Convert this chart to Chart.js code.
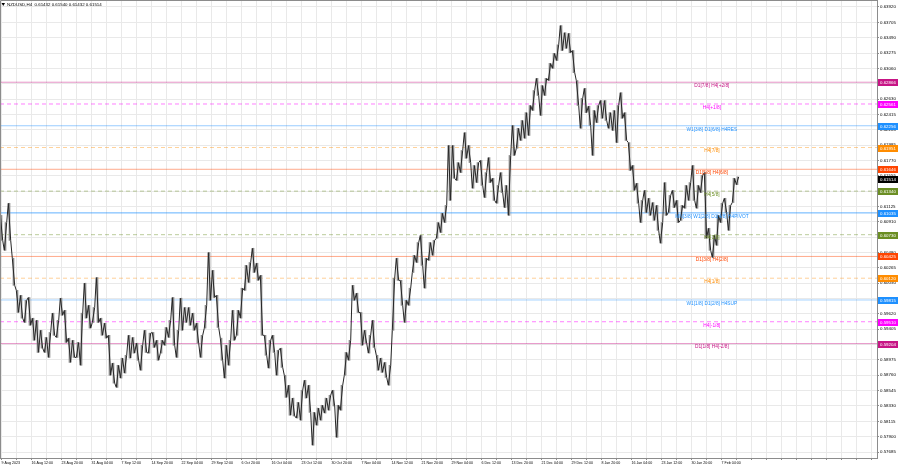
<!DOCTYPE html>
<html>
<head>
<meta charset="utf-8">
<title>NZDUSD,H4</title>
<script src="https://cdn.jsdelivr.net/npm/chart.js@4.4.0/dist/chart.umd.min.js"></script>
<style>
  html, body { margin: 0; padding: 0; background: #fff; }
  canvas { display: block; }
</style>
</head>
<body>
<canvas id="chart" width="900" height="468"></canvas>
<script>
// Header / quote
// ----------------------------------------------
const symbolInfo = 'NZDUSD,H4  0.61432 0.61540 0.61432 0.61514';
const lastPrice  = 0.61514;

// Time axis labels (one every 30px on the chart)
// ----------------------------------------------
const dateLabels = [ '9 Aug 2023', '16 Aug 12:00', '23 Aug 20:00', '31 Aug 04:00', '7 Sep 12:00', '14 Sep 20:00', '22 Sep 04:00', '29 Sep 12:00', '6 Oct 20:00', '16 Oct 04:00', '23 Oct 12:00', '30 Oct 20:00', '7 Nov 04:00', '14 Nov 12:00', '21 Nov 20:00', '29 Nov 04:00', '6 Dec 12:00', '13 Dec 20:00', '21 Dec 04:00', '29 Dec 12:00', '8 Jan 20:00', '16 Jan 04:00', '23 Jan 12:00', '30 Jan 20:00', '7 Feb 04:00' ];

// Price axis labels
// ----------------------------------------------
const yTicks = [ 0.63920, 0.63705, 0.63490, 0.63275, 0.63060, 0.62845, 0.62630, 0.62415, 0.62200, 0.61985, 0.61770, 0.61555, 0.61340, 0.61125, 0.60910, 0.60695, 0.60480, 0.60265, 0.60050, 0.59835, 0.59620, 0.59405, 0.59190, 0.58975, 0.58760, 0.58545, 0.58330, 0.58115, 0.57900, 0.57685 ];

// Price ranges (each entry ~ 4 H4 bars)
// ----------------------------------------------
const highs = [
   0.6100, 0.6090, 0.6117, 0.6040, 0.5995, 0.5988, 0.5981, 0.5985, 0.5956, 0.5953,
   0.5939, 0.5929, 0.5936, 0.5963, 0.5953, 0.5984, 0.5967, 0.5928, 0.5925, 0.5922,
   0.5963, 0.6005, 0.5974, 0.5971, 0.6013, 0.5956, 0.5949, 0.5932, 0.5893, 0.5890,
   0.5900, 0.5904, 0.5932, 0.5929, 0.5921, 0.5918, 0.5939, 0.5935, 0.5936, 0.5925,
   0.5925, 0.5943, 0.5953, 0.5985, 0.5939, 0.5984, 0.5971, 0.5971, 0.5963, 0.5949,
   0.5932, 0.5974, 0.6048, 0.6023, 0.5988, 0.5928, 0.5918, 0.5925, 0.5967, 0.5967,
   0.5998, 0.6030, 0.6034, 0.6054, 0.6033, 0.6016, 0.5932, 0.5925, 0.5932, 0.5911,
   0.5914, 0.5876, 0.5862, 0.5844, 0.5838, 0.5855, 0.5869, 0.5862, 0.5824, 0.5830,
   0.5834, 0.5844, 0.5848, 0.5855, 0.5834, 0.5862, 0.5908, 0.5925, 0.6002, 0.5991,
   0.5964, 0.5939, 0.5932, 0.5953, 0.5904, 0.5900, 0.5894, 0.5890, 0.6012, 0.6040,
   0.6009, 0.5981, 0.5998, 0.6044, 0.6062, 0.6072, 0.6040, 0.6062, 0.6065, 0.6090,
   0.6103, 0.6114, 0.6198, 0.6198, 0.6174, 0.6191, 0.6216, 0.6198, 0.6170, 0.6174,
   0.6177, 0.6160, 0.6181, 0.6152, 0.6142, 0.6160, 0.6142, 0.6184, 0.6226, 0.6222,
   0.6233, 0.6244, 0.6254, 0.6275, 0.6292, 0.6282, 0.6292, 0.6313, 0.6327, 0.6339,
   0.6366, 0.6356, 0.6355, 0.6331, 0.6289, 0.6264, 0.6278, 0.6253, 0.6247, 0.6254,
   0.6261, 0.6261, 0.6244, 0.6247, 0.6254, 0.6272, 0.6244, 0.6202, 0.6170, 0.6145,
   0.6121, 0.6135, 0.6124, 0.6118, 0.6114, 0.6090, 0.6146, 0.6128, 0.6135, 0.6121,
   0.6114, 0.6142, 0.6146, 0.6170, 0.6142, 0.6156, 0.6160, 0.6082, 0.6072, 0.6100,
   0.6117, 0.6124, 0.6114, 0.6152, 0.6154
];
const lows = [
   0.6065, 0.6051, 0.6065, 0.6002, 0.5964, 0.5956, 0.5950, 0.5946, 0.5925, 0.5908,
   0.5914, 0.5908, 0.5901, 0.5932, 0.5929, 0.5960, 0.5922, 0.5894, 0.5901, 0.5901,
   0.5890, 0.5956, 0.5942, 0.5950, 0.5950, 0.5932, 0.5928, 0.5876, 0.5865, 0.5859,
   0.5872, 0.5879, 0.5900, 0.5907, 0.5897, 0.5883, 0.5908, 0.5907, 0.5915, 0.5897,
   0.5907, 0.5918, 0.5929, 0.5918, 0.5901, 0.5939, 0.5950, 0.5946, 0.5939, 0.5921,
   0.5901, 0.5942, 0.5981, 0.5985, 0.5943, 0.5897, 0.5872, 0.5890, 0.5925, 0.5932,
   0.5956, 0.5995, 0.6006, 0.6020, 0.6009, 0.5932, 0.5904, 0.5886, 0.5908, 0.5876,
   0.5887, 0.5845, 0.5820, 0.5819, 0.5816, 0.5813, 0.5844, 0.5824, 0.5778, 0.5806,
   0.5813, 0.5823, 0.5827, 0.5833, 0.5789, 0.5827, 0.5876, 0.5897, 0.5981, 0.5964,
   0.5918, 0.5921, 0.5907, 0.5915, 0.5883, 0.5880, 0.5873, 0.5862, 0.5939, 0.6009,
   0.5974, 0.5950, 0.5974, 0.6020, 0.6034, 0.6030, 0.5998, 0.6037, 0.6044, 0.6068,
   0.6076, 0.6090, 0.6121, 0.6152, 0.6149, 0.6160, 0.6180, 0.6174, 0.6138, 0.6146,
   0.6142, 0.6125, 0.6146, 0.6121, 0.6117, 0.6132, 0.6111, 0.6100, 0.6184, 0.6194,
   0.6205, 0.6208, 0.6212, 0.6247, 0.6268, 0.6240, 0.6268, 0.6289, 0.6306, 0.6317,
   0.6331, 0.6334, 0.6328, 0.6300, 0.6254, 0.6222, 0.6244, 0.6226, 0.6184, 0.6230,
   0.6236, 0.6233, 0.6222, 0.6219, 0.6202, 0.6236, 0.6205, 0.6163, 0.6135, 0.6117,
   0.6090, 0.6104, 0.6100, 0.6093, 0.6079, 0.6061, 0.6100, 0.6104, 0.6111, 0.6090,
   0.6093, 0.6110, 0.6121, 0.6121, 0.6110, 0.6132, 0.6068, 0.6051, 0.6041, 0.6058,
   0.6090, 0.6104, 0.6079, 0.6118, 0.6143
];

// Murrey math levels
// ----------------------------------------------
const levelValues = [ 0.62866, 0.62561, 0.62256, 0.61951, 0.61646, 0.61340, 0.61035, 0.60730, 0.60425, 0.60120, 0.59815, 0.59510, 0.59204 ];
const levelNames  = [ 'D1[7/8] H4[+2/8]', 'H4[+1/8]', 'W1[3/8] D1[6/8] H4RES', 'H4[7/8]', 'D1[5/8] H4[6/8]', 'H4[5/8]', 'MN[3/8] W1[2/8] D1[4/8] H4PIVOT', 'H4[3/8]', 'D1[3/8] H4[2/8]', 'H4[1/8]', 'W1[1/8] D1[2/8] H4SUP', 'H4[-1/8]', 'D1[1/8] H4[-2/8]' ];

// Styles
// ----------------------------------------------
const levelColors = [ '#c71585', '#ff00ff', '#1e90ff', '#ff8c00', '#ff4500', '#6b8e23', '#1e90ff', '#6b8e23', '#ff4500', '#ff8c00', '#1e90ff', '#ff00ff', '#c71585' ];
const levelDashed = [ false, true, false, true, false, true, false, true, false, true, false, true, false ];
const levelAlpha  = [ 0.45, 0.5, 0.45, 0.4, 0.45, 0.45, 0.7, 0.45, 0.45, 0.4, 0.4, 0.5, 0.45 ];

const FONT   = '"Liberation Sans", Arial, sans-serif';
const X_MIN  = -0.375, X_MAX = 218.875;     // bar index range, 4px per slot
const Y_MIN  = 0.57601, Y_MAX = 0.64018;
const labelSlot = 177.6;                    // where the level names sit

const rgba = ( hex, a ) => {
   const n = parseInt( hex.slice(1), 16 );
   return `rgba(${ n >> 16 },${ ( n >> 8 ) & 255 },${ n & 255 },${ a })`;
};

// grid every 15px, date label on every other line
const xGrid = [];
for ( let j = 0; j * 3.75 <= X_MAX; j++ ) xGrid.push( j * 3.75 );

// high-low ranges as floating bars
const ranges = highs.map( ( h, i ) => ({ x: i, y: [ lows[i], h ] }) );

// the same highs/lows joined as a zigzag trace (visit order follows the next slot's direction)
const trace = [];
highs.forEach( ( h, i ) => {
   const up = i + 1 < highs.length ? highs[i + 1] > h : true;
   const first  = up ? lows[i] : h;
   const second = up ? h : lows[i];
   trace.push( { x: i - 0.3, y: first }, { x: i + 0.3, y: second } );
});

const levelSets = levelValues.map( ( v, k ) => ({
   type: 'line',
   data: [ { x: X_MIN, y: v }, { x: X_MAX, y: v } ],
   borderColor: rgba( levelColors[k], levelAlpha[k] ),
   borderWidth: 1,
   borderDash: levelDashed[k] ? [ 4, 3 ] : [],
   pointRadius: 0,
   order: 3
}));

const overlay = {
   id: 'overlay',
   afterDatasetsDraw( chart ) {
      const { ctx, scales: { x, y } } = chart;
      ctx.save();

      // level names
      ctx.font = `4.8px ${ FONT }`;
      ctx.textAlign = 'center';
      ctx.textBaseline = 'middle';
      const lx = x.getPixelForValue( labelSlot );
      levelValues.forEach( ( v, k ) => {
         ctx.fillStyle = levelColors[k];
         ctx.fillText( levelNames[k], lx, y.getPixelForValue( v ) + 3.5 );
      });

      // header
      ctx.fillStyle = '#000';
      ctx.beginPath();
      ctx.moveTo( 1.5, 3 ); ctx.lineTo( 5, 3 ); ctx.lineTo( 3.25, 6 );
      ctx.closePath();
      ctx.fill();
      ctx.font = `4.4px ${ FONT }`;
      ctx.textAlign = 'left';
      ctx.fillText( symbolInfo, 7, 5 );
      ctx.restore();
   },
   afterDraw( chart ) {
      const { ctx, chartArea, scales: { y } } = chart;
      ctx.save();
      // left/top frame
      ctx.strokeStyle = '#8c8c8c';
      ctx.lineWidth = 1;
      ctx.beginPath();
      ctx.moveTo( 0.5, chartArea.bottom ); ctx.lineTo( 0.5, 0.5 ); ctx.lineTo( chartArea.right, 0.5 );
      ctx.stroke();

      // price tags on the right axis
      const tags = levelValues.map( ( v, k ) => ({ v, c: levelColors[k] }) );
      tags.push( { v: lastPrice, c: '#000' } );
      ctx.font = `4.4px ${ FONT }`;
      ctx.textAlign = 'left';
      ctx.textBaseline = 'middle';
      tags.forEach( t => {
         const py = Math.round( y.getPixelForValue( t.v ) );
         ctx.fillStyle = t.c;
         ctx.fillRect( chartArea.right + 1, py - 3, 20, 7 );
         ctx.fillStyle = '#fff';
         ctx.fillText( t.v.toFixed(5), chartArea.right + 3, py + 0.5 );
      });
      ctx.restore();
   }
};

new Chart( document.getElementById('chart'), {
   type: 'bar',
   data: {
      datasets: [
         {
            // zigzag price trace
            type: 'line',
            data: trace,
            borderColor: '#262626',
            borderWidth: 1,
            pointRadius: 0,
            tension: 0,
            order: 1
         },
         {
            // high-low ranges
            type: 'bar',
            data: ranges,
            backgroundColor: '#8a8a8a',
            borderWidth: 0,
            barThickness: 1,
            grouped: false,
            order: 2
         },
         ...levelSets
      ]
   },
   options: {
      responsive: false,
      animation: false,
      devicePixelRatio: 1,
      layout: { padding: 0 },
      plugins: {
         legend: { display: false },
         tooltip: { enabled: false }
      },
      scales: {
         x: {
            type: 'linear',
            position: 'bottom',
            offset: false,
            min: X_MIN,
            max: X_MAX,
            grid: { color: '#e9e9e9', tickLength: 2, tickColor: '#8c8c8c', offset: false },
            border: { color: '#8c8c8c' },
            afterBuildTicks: scale => { scale.ticks = xGrid.map( v => ({ value: v }) ); },
            afterFit: scale => { scale.height = 10; scale.paddingLeft = 0; scale.paddingRight = 0; },
            ticks: {
               autoSkip: false,
               maxRotation: 0,
               minRotation: 0,
               align: 'start',
               padding: 1,
               color: '#000',
               font: { size: 3.6, family: FONT },
               callback: ( v, idx ) => ( idx % 2 === 0 && dateLabels[ idx / 2 ] ) ? dateLabels[ idx / 2 ] : ''
            }
         },
         y: {
            type: 'linear',
            position: 'right',
            min: Y_MIN,
            max: Y_MAX,
            grid: { color: '#e9e9e9', tickLength: 2, tickColor: '#8c8c8c' },
            border: { color: '#8c8c8c' },
            afterBuildTicks: scale => { scale.ticks = yTicks.map( v => ({ value: v }) ); },
            afterFit: scale => { scale.width = 23; scale.paddingTop = 0; scale.paddingBottom = 0; },
            ticks: {
               autoSkip: false,
               padding: 1,
               color: '#000',
               font: { size: 4.4, family: FONT },
               callback: v => v.toFixed(5)
            }
         }
      }
   },
   plugins: [ overlay ]
});
</script>
</body>
</html>
